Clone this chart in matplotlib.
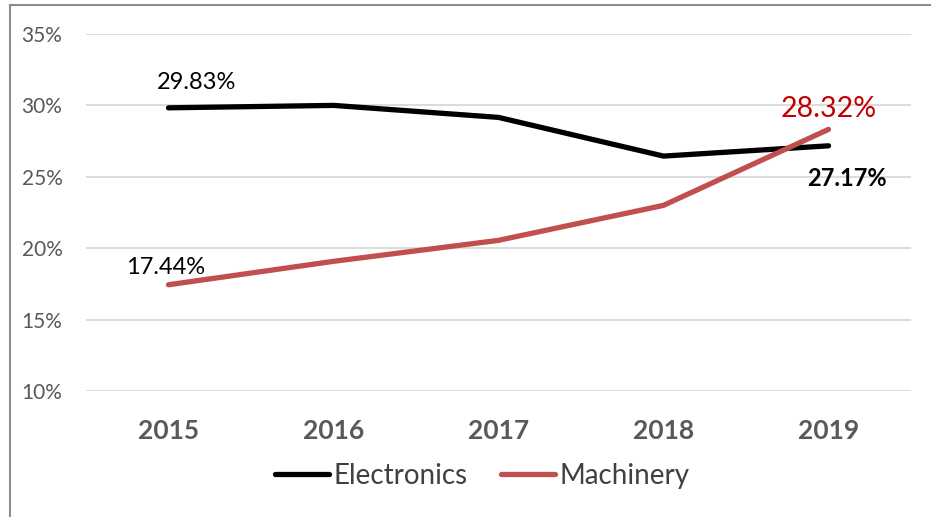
import matplotlib
matplotlib.use("Agg")
import matplotlib.pyplot as plt
from matplotlib.lines import Line2D
from matplotlib.ticker import FuncFormatter

years = ["2015", "2016", "2017", "2018", "2019"]
electronics = [29.83, 30.00, 29.16, 26.45, 27.17]
machinery = [17.44, 19.08, 20.55, 23.00, 28.32]

plt.rcParams["font.family"] = ["Lato", "DejaVu Sans"]

fig = plt.figure(figsize=(9.31, 5.17), dpi=100)
ax = fig.add_axes([86 / 931, 1 - 391 / 517, (911 - 86) / 931, (391 - 34) / 517])

x = list(range(len(years)))
ax.plot(x, electronics, color="black", lw=3.8, solid_capstyle="round", label="Electronics", zorder=3)
ax.plot(x, machinery, color="#c0504d", lw=3.8, solid_capstyle="round", label="Machinery", zorder=3)

ax.set_xlim(-0.5, 4.5)
ax.set_ylim(10, 35)
ax.set_yticks([10, 15, 20, 25, 30, 35])
ax.yaxis.set_major_formatter(FuncFormatter(lambda v, p: f"{v:.0f}%"))
ax.grid(axis="y", color="#d9d9d9", lw=1.3)
ax.set_axisbelow(True)
for s in ax.spines.values():
    s.set_visible(False)
ax.tick_params(length=0)
ax.tick_params(axis="y", labelsize=15, labelcolor="#595959", pad=17)
ax.set_xticks(x)
ax.set_xticklabels(years, fontsize=19, fontweight="bold", color="#595959")
ax.tick_params(axis="x", pad=20)

# value labels
ax.annotate(f"{electronics[0]:.2f}%", (0, electronics[0]), xytext=(20, 11), textcoords="offset points",
            ha="center", va="bottom", fontsize=17, color="black")
ax.annotate(f"{machinery[0]:.2f}%", (0, machinery[0]), xytext=(-2, 5), textcoords="offset points",
            ha="center", va="bottom", fontsize=17, color="black")
ax.annotate(f"{machinery[4]:.2f}%", (4, machinery[4]), xytext=(0, 5), textcoords="offset points",
            ha="center", va="bottom", fontsize=20.5, color="#c00000")
ax.annotate(f"{electronics[4]:.2f}%", (4, electronics[4]), xytext=(13, -15), textcoords="offset points",
            ha="center", va="top", fontsize=17, fontweight="bold", color="black")

handles = [Line2D([], [], color="black", lw=3.8, solid_capstyle="round"),
           Line2D([], [], color="#c0504d", lw=3.8, solid_capstyle="round")]
fig.legend(handles, ["Electronics", "Machinery"], loc="center", bbox_to_anchor=(482 / 931, 1 - 476 / 517),
           ncol=2, frameon=False, fontsize=20, handlelength=1.95, handletextpad=0.15, columnspacing=1.2,
           labelcolor="#404040")

# outer frame
fig.add_artist(Line2D([10 / 931, 1], [1 - 5 / 517, 1 - 5 / 517], color="#8c8c8c", lw=1.5, transform=fig.transFigure))
fig.add_artist(Line2D([10 / 931, 10 / 931], [0, 1 - 5 / 517], color="#8c8c8c", lw=1.5, transform=fig.transFigure))

fig.savefig("out.png", dpi=100)
